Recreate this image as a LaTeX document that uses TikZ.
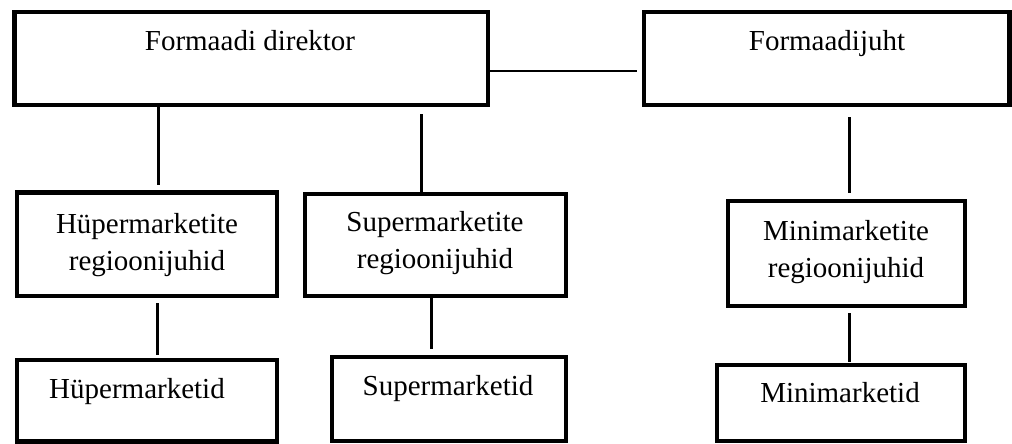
\documentclass[tikz,border=0pt]{standalone}
\usepackage{fontspec}
\setmainfont{Liberation Serif}
\begin{document}
\begin{tikzpicture}[x=1pt,y=-1pt,
  box/.style={draw=black, line width=4.5pt, rectangle, inner sep=0pt, anchor=center},
  conn/.style={draw=black, line width=3pt},
  txt/.style={font=\fontsize{29}{37}\selectfont, align=center, inner sep=0pt, anchor=base}]
\useasboundingbox (0,0) rectangle (1012,444);
% boxes
\node[box, minimum width=473.5pt, minimum height=93pt] (dir) at (251.25,58.5) {};
\node[box, minimum width=365.5pt, minimum height=93pt] (juht) at (826.75,58.5) {};
\node[box, minimum width=260pt, minimum height=103.5pt] (hupR) at (147,244.25) {};
\node[box, minimum width=261pt, minimum height=102pt] (supR) at (435.5,245) {};
\node[box, minimum width=237pt, minimum height=105pt] (miniR) at (846.5,253.5) {};
\node[box, minimum width=260pt, minimum height=81.5pt] (hup) at (147,400.75) {};
\node[box, minimum width=234pt, minimum height=84pt] (sup) at (449,399) {};
\node[box, minimum width=248pt, minimum height=76pt] (mini) at (841,403) {};
% texts
\node[txt] (dirT) at (250,51) {Formaadi direktor};
\node[txt] (juhtT) at (827,51) {Formaadijuht};
\node[txt] (hupRT) at (147,270) {Hüpermarketite\\regioonijuhid};
\node[txt] (supRT) at (435,268) {Supermarketite\\regioonijuhid};
\node[txt] (miniRT) at (846,277) {Minimarketite\\regioonijuhid};
\node[txt] (hupT) at (137,398) {Hüpermarketid};
\node[txt] (supT) at (448,395) {Supermarketid};
\node[txt] (miniT) at (840,402) {Minimarketid};
% connector guides
\coordinate (c1) at (158,0);
\coordinate (c2) at (421,0);
\coordinate (c3) at (0,71);
\coordinate (c4) at (849,0);
\coordinate (c5) at (157,0);
\coordinate (c6) at (431,0);
\coordinate (c7) at (849,0);
% connectors
\draw[conn, shorten >=5pt] (dir.south -| c1) -- (hupR.north -| c1);
\draw[conn, shorten <=7pt] (dir.south -| c2) -- (supR.north -| c2);
\draw[conn, line width=2.5pt, shorten >=4.75pt] (dir.east |- c3) -- (juht.west |- c3);
\draw[conn, shorten <=10pt, shorten >=6pt] (juht.south -| c4) -- (miniR.north -| c4);
\draw[conn, shorten <=5pt, shorten >=3pt] (hupR.south -| c5) -- (hup.north -| c5);
\draw[conn, shorten >=6pt] (supR.south -| c6) -- (sup.north -| c6);
\draw[conn, shorten <=5pt, shorten >=1pt] (miniR.south -| c7) -- (mini.north -| c7);
\end{tikzpicture}
\end{document}
